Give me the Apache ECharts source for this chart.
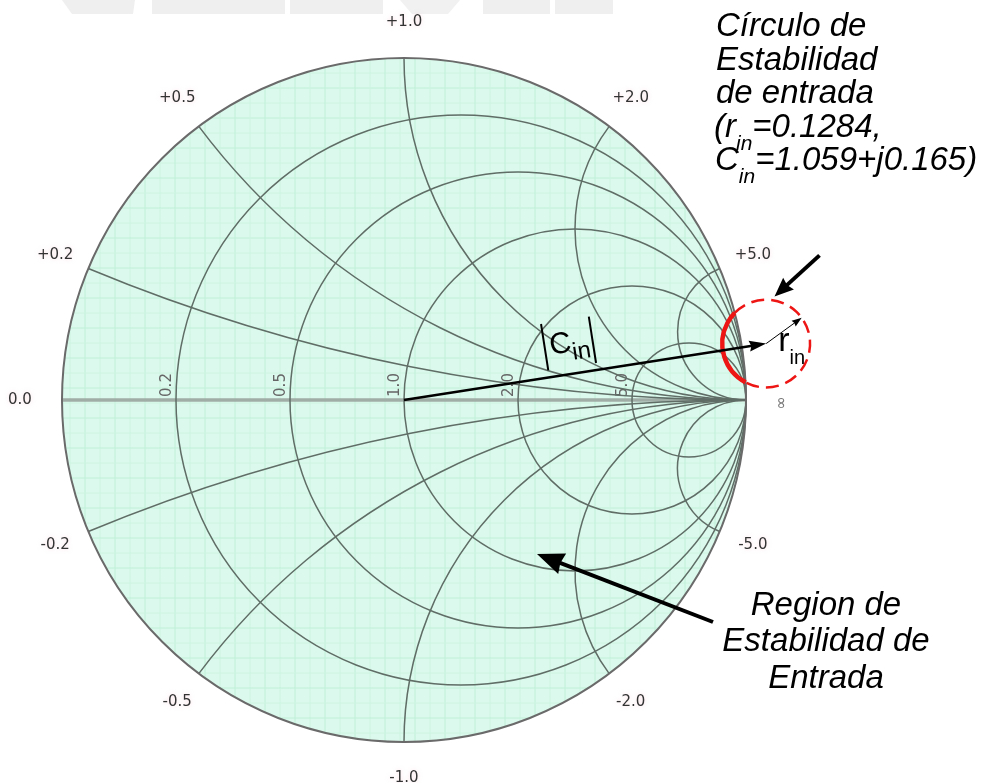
<!DOCTYPE html>
<html>
<head>
<meta charset="utf-8">
<script src="https://cdn.jsdelivr.net/npm/echarts@6/dist/echarts.min.js"></script>
<style>
  html, body { margin: 0; padding: 0; background: #ffffff; }
  #chart { width: 988px; height: 783px; }
</style>
</head>
<body>
<div id="chart"></div>
<script>
// Normalised resistance circles and their labels on the real axis
const resistanceCircles = [0.2, 0.5, 1.0, 2.0, 5.0];
const resistanceTickLabels = ['0.2', '0.5', '1.0', '2.0', '5.0'];
// Normalised reactance arcs and their labels round the rim
const reactanceArcs = [0.2, 0.5, 1.0, 2.0, 5.0, -0.2, -0.5, -1.0, -2.0, -5.0];
const reactanceTickLabels = ['+0.2', '+0.5', '+1.0', '+2.0', '+5.0', '-0.2', '-0.5', '-1.0', '-2.0', '-5.0'];
// Labels at the two ends of the real axis (short circuit / open circuit)
const rimEndLabels = ['0.0', '\u221E'];
// Input stability circle: centre re, centre im, radius
const stabilityCircle = [1.059, 0.165, 0.1284];

const FONT_SANS = '"Liberation Sans", Arial, sans-serif';
const FONT_TICK = '"DejaVu Sans", Verdana, sans-serif';
const GRID_LINE = '#5f6d66';
const RED = '#ee1515';

const measureCtx = document.createElement('canvas').getContext('2d');
function textWidth(t, font) { measureCtx.font = font; return measureCtx.measureText(t).width; }

// Text element anchored on its alphabetic baseline
function baselineText(x, baseline, text, size, opts) {
  opts = opts || {};
  const font = (opts.italic ? 'italic ' : '') + size + 'px ' + FONT_SANS;
  return {
    type: 'text', x: x, y: baseline - 0.347 * size,
    style: {
      text: text, font: font, fill: opts.fill || '#000',
      align: opts.align || 'left', textAlign: opts.align || 'left',
      verticalAlign: 'middle', textVerticalAlign: 'middle'
    }
  };
}

// A run of text pieces with optional subscripts: [text, size, baselineShift]
function textRun(x, baseline, parts, italic, align) {
  const pieces = [];
  const fontOf = p => (italic ? 'italic ' : '') + p[1] + 'px ' + FONT_SANS;
  let total = 0;
  parts.forEach(p => { total += textWidth(p[0], fontOf(p)); });
  let cx = align === 'center' ? x - total / 2 : x;
  parts.forEach(p => {
    pieces.push(baselineText(cx, baseline + (p[2] || 0), p[0], p[1], { italic: italic }));
    cx += textWidth(p[0], fontOf(p));
  });
  return pieces;
}

// Straight arrow with a filled head ending at (x1, y1)
function arrowShapes(x0, y0, x1, y1, width, headLen, headHalf, notch, color) {
  const a = Math.atan2(y1 - y0, x1 - x0);
  const ux = Math.cos(a), uy = Math.sin(a), nx = -uy, ny = ux;
  const bx = x1 - ux * headLen, by = y1 - uy * headLen;
  return [
    { type: 'line', shape: { x1: x0, y1: y0, x2: bx + ux * (notch + 1), y2: by + uy * (notch + 1) },
      style: { stroke: color, lineWidth: width, lineCap: 'butt' } },
    { type: 'polygon', shape: { points: [[x1, y1], [bx + nx * headHalf, by + ny * headHalf],
        [bx + ux * notch, by + uy * notch], [bx - nx * headHalf, by - ny * headHalf]] },
      style: { fill: color } }
  ];
}

// Raise graphic elements above the series layers
function onTop(list) { return list.map(el => Object.assign({ z: 100, silent: true }, el)); }

// Pixel frame of the unit circle
function frame(api) {
  const c = api.coord([0, 0]);
  const e = api.coord([1, 0]);
  return { cx: c[0], cy: c[1], R: e[0] - c[0] };
}

const tickLabelStyle = (text, color) => ({
  text: text, font: '15px ' + FONT_TICK, fill: color,
  align: 'center', textAlign: 'center', verticalAlign: 'middle', textVerticalAlign: 'middle',
  textShadowColor: 'rgba(245,185,200,0.55)', textShadowBlur: 4
});

const chart = echarts.init(document.getElementById('chart'), null, { renderer: 'canvas' });

const option = {
  animation: false,
  backgroundColor: '#ffffff',
  grid: { left: 62, top: 58, width: 684, height: 684 },
  xAxis: { type: 'value', min: -1, max: 1, show: false },
  yAxis: { type: 'value', min: -1, max: 1, show: false },
  graphic: [].concat(
    // faint watermark band along the top edge
    [
      { type: 'polygon', silent: true, shape: { points: [[62, 0], [135, 0], [133, 14], [72, 14]] }, style: { fill: '#efefef' } },
      { type: 'rect', silent: true, shape: { x: 152, y: 0, width: 133, height: 14 }, style: { fill: '#efefef' } },
      { type: 'rect', silent: true, shape: { x: 290, y: 0, width: 93, height: 14 }, style: { fill: '#efefef' } },
      { type: 'polygon', silent: true, shape: { points: [[400, 0], [460, 0], [448, 14], [412, 14]] }, style: { fill: '#f1f1f1' } },
      { type: 'rect', silent: true, shape: { x: 483, y: 0, width: 67, height: 14 }, style: { fill: '#efefef' } },
      { type: 'rect', silent: true, shape: { x: 555, y: 0, width: 58, height: 14 }, style: { fill: '#efefef' } }
    ],
    // annotation for the stability circle
    onTop([].concat(
      textRun(716, 38, [['C\u00EDrculo de', 33]], true),
      textRun(716, 72, [['Estabilidad', 33]], true),
      textRun(716, 105, [['de entrada', 33]], true),
      textRun(714, 139, [['(r', 33], ['in', 21, 12], ['=0.1284,', 33]], true),
      textRun(715, 172, [['C', 33], ['in', 21, 12], ['=1.059+j0.165)', 33]], true)
    )),
    // annotation for the stable region
    onTop([].concat(
      textRun(826, 617, [['Region de', 33]], true, 'center'),
      textRun(826, 653, [['Estabilidad de', 33]], true, 'center'),
      textRun(826, 690, [['Entrada', 33]], true, 'center'),
      arrowShapes(713, 622, 537, 554, 4, 27, 11, 2, '#000')
    ))
  ),
  series: [
    {
      // chart disk
      type: 'custom', coordinateSystem: 'cartesian2d', clip: false, silent: true, z: 1,
      data: [[0, 0]],
      renderItem: (params, api) => {
        const f = frame(api);
        return { type: 'circle', shape: { cx: f.cx, cy: f.cy, r: f.R }, style: { fill: '#dbf9ec' } };
      }
    },
    {
      // fine background grid inside the disk
      type: 'custom', coordinateSystem: 'cartesian2d', clip: false, silent: true, z: 2,
      data: [[0, 0]],
      renderItem: (params, api) => {
        const f = frame(api);
        const children = [];
        const step = 15;
        for (let k = -30; k <= 30; k++) {
          const major = (k % 2 === 0);
          const stroke = major ? '#bff0d9' : '#cdf4e2';
          const dx = 11 + k * step;
          if (Math.abs(dx) < f.R - 1) {
            const h = Math.sqrt(f.R * f.R - dx * dx);
            children.push({ type: 'line', shape: { x1: f.cx + dx, y1: f.cy - h, x2: f.cx + dx, y2: f.cy + h },
              style: { stroke: stroke, lineWidth: 1 } });
          }
          const dy = 18 + k * step;
          if (Math.abs(dy) < f.R - 1) {
            const w = Math.sqrt(f.R * f.R - dy * dy);
            children.push({ type: 'line', shape: { x1: f.cx - w, y1: f.cy + dy, x2: f.cx + w, y2: f.cy + dy },
              style: { stroke: stroke, lineWidth: 1 } });
          }
        }
        return { type: 'group', children: children };
      }
    },
    {
      // real axis
      type: 'custom', coordinateSystem: 'cartesian2d', clip: false, silent: true, z: 3,
      data: [[0, 0]],
      renderItem: (params, api) => {
        const f = frame(api);
        return { type: 'line', shape: { x1: f.cx - f.R, y1: f.cy, x2: f.cx + f.R, y2: f.cy },
          style: { stroke: '#9fada6', lineWidth: 3.5 } };
      }
    },
    {
      // constant resistance circles
      type: 'custom', coordinateSystem: 'cartesian2d', clip: false, silent: true, z: 4,
      data: resistanceCircles.map(r => [r, 0]),
      renderItem: (params, api) => {
        const f = frame(api);
        const r = api.value(0);
        const centre = r / (r + 1), rad = 1 / (r + 1), cross = (r - 1) / (r + 1);
        return { type: 'group', children: [
          { type: 'circle', shape: { cx: f.cx + centre * f.R, cy: f.cy, r: rad * f.R },
            style: { fill: null, stroke: GRID_LINE, lineWidth: 1.5 } },
          { type: 'text', x: f.cx + cross * f.R - 9, y: f.cy - 15, rotation: Math.PI / 2,
            style: Object.assign(tickLabelStyle(resistanceTickLabels[params.dataIndex], '#666666'), { textShadowBlur: 0 }) }
        ] };
      }
    },
    {
      // constant reactance arcs
      type: 'custom', coordinateSystem: 'cartesian2d', clip: false, silent: true, z: 4,
      data: reactanceArcs.map(x => [x, 0]),
      renderItem: (params, api) => {
        const f = frame(api);
        const x = api.value(0);
        const acx = f.cx + f.R, acy = f.cy - f.R / x, rr = f.R / Math.abs(x);
        const ex = (x * x - 1) / (x * x + 1), ey = 2 * x / (x * x + 1);
        const px = f.cx + ex * f.R, py = f.cy - ey * f.R;
        const th = Math.atan2(py - acy, px - acx);
        let start, end;
        if (x > 0) { start = Math.PI / 2; end = th; if (end < start) end += 2 * Math.PI; }
        else { start = th; end = -Math.PI / 2; if (start > end) start -= 2 * Math.PI; }
        const ang = Math.atan2(ey, ex);
        const lr = 1.105 * f.R;
        return { type: 'group', children: [
          { type: 'arc', shape: { cx: acx, cy: acy, r: rr, startAngle: start, endAngle: end, clockwise: true },
            style: { fill: null, stroke: GRID_LINE, lineWidth: 1.5 } },
          { type: 'text', x: f.cx + Math.cos(ang) * lr, y: f.cy - Math.sin(ang) * lr,
            style: tickLabelStyle(reactanceTickLabels[params.dataIndex], '#333333') }
        ] };
      }
    },
    {
      // outer rim with the labels at both ends of the real axis
      type: 'custom', coordinateSystem: 'cartesian2d', clip: false, silent: true, z: 5,
      data: [[0, 0]],
      renderItem: (params, api) => {
        const f = frame(api);
        return { type: 'group', children: [
          { type: 'circle', shape: { cx: f.cx, cy: f.cy, r: f.R }, style: { fill: null, stroke: '#6a6a6a', lineWidth: 2 } },
          { type: 'text', x: f.cx - 1.123 * f.R, y: f.cy, style: tickLabelStyle(rimEndLabels[0], '#333333') },
          { type: 'text', x: f.cx + 1.105 * f.R, y: f.cy + 3, rotation: Math.PI / 2,
            style: Object.assign(tickLabelStyle(rimEndLabels[1], '#777777'), { font: '16px ' + FONT_TICK, textShadowBlur: 0 }) }
        ] };
      }
    },
    {
      // input stability circle with its centre vector and radius
      type: 'custom', coordinateSystem: 'cartesian2d', clip: false, silent: true, z: 10,
      data: [stabilityCircle],
      renderItem: (params, api) => {
        const f = frame(api);
        const c = api.coord([api.value(0), api.value(1)]);
        const r = api.value(2) * f.R;
        const dx = f.cx - c[0], dy = f.cy - c[1];
        const d = Math.hypot(dx, dy);
        const alpha = Math.atan2(dy, dx);
        const phi = Math.acos((d * d + r * r - f.R * f.R) / (2 * d * r));
        const children = [
          { type: 'arc', shape: { cx: c[0], cy: c[1], r: r, startAngle: alpha + phi, endAngle: alpha - phi + 2 * Math.PI, clockwise: true },
            style: { fill: null, stroke: RED, lineWidth: 2.5, lineDash: [13, 7] } },
          { type: 'arc', shape: { cx: c[0], cy: c[1], r: r, startAngle: alpha - phi, endAngle: alpha + phi, clockwise: true },
            style: { fill: null, stroke: RED, lineWidth: 4.5 } }
        ];
        // |Cin| vector from the chart centre
        Array.prototype.push.apply(children, arrowShapes(f.cx, f.cy, c[0], c[1], 2.5, 17, 5.5, 2, '#000'));
        // rin radius vector
        const ra = -36 * Math.PI / 180;
        Array.prototype.push.apply(children, arrowShapes(c[0], c[1], c[0] + r * Math.cos(ra), c[1] + r * Math.sin(ra), 1, 10, 3.5, 1, '#000'));
        // |Cin| label laid along the vector
        const va = Math.atan2(c[1] - f.cy, c[0] - f.cx);
        const t = 0.47;
        const gx = f.cx + (c[0] - f.cx) * t + 30 * Math.sin(va);
        const gy = f.cy + (c[1] - f.cy) * t - 30 * Math.cos(va);
        const wC = textWidth('C', '30px ' + FONT_SANS);
        const wIn = textWidth('in', '24px ' + FONT_SANS);
        const x0 = -(wC + wIn) / 2;
        children.push({ type: 'group', x: gx, y: gy, rotation: -va, children: [
          { type: 'line', shape: { x1: x0 - 5, y1: -24, x2: x0 - 5, y2: 23 }, style: { stroke: '#000', lineWidth: 2 } },
          baselineText(x0, 10, 'C', 30),
          baselineText(x0 + wC, 18, 'in', 24),
          { type: 'line', shape: { x1: x0 + wC + wIn + 3, y1: -24, x2: x0 + wC + wIn + 3, y2: 23 }, style: { stroke: '#000', lineWidth: 2 } }
        ] });
        // rin label
        const wr = textWidth('r', '34px ' + FONT_SANS);
        children.push(baselineText(c[0] + 12, c[1] + 10, 'r', 34));
        children.push(baselineText(c[0] + 12 + wr, c[1] + 22, 'in', 20));
        // pointer from the annotation text to the circle
        const pa = -80 * Math.PI / 180;
        const tipX = c[0] + (r + 4) * Math.cos(pa), tipY = c[1] + (r + 4) * Math.sin(pa);
        Array.prototype.push.apply(children, arrowShapes(tipX + 45, tipY - 41, tipX, tipY, 4, 19, 8, 2, '#000'));
        return { type: 'group', children: children };
      }
    }
  ]
};

chart.setOption(option);
</script>
</body>
</html>
